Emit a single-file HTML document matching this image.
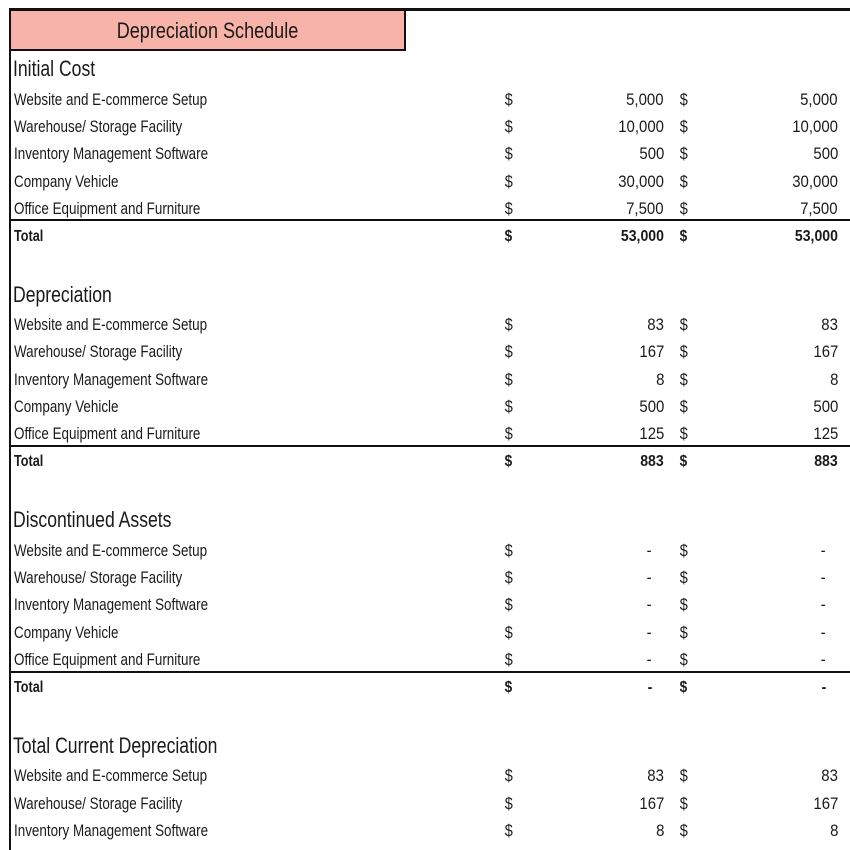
<!DOCTYPE html>
<html><head><meta charset="utf-8"><style>
html,body{margin:0;padding:0;background:#fff;}
body{width:850px;height:850px;position:relative;overflow:hidden;font-family:"Liberation Sans",sans-serif;color:#1a1a1a;}
.t{position:absolute;height:20px;line-height:20px;font-size:17px;white-space:nowrap;}
.l{left:14px;transform:scaleX(0.79);transform-origin:left center;}
.d1{left:504px;transform:scaleX(0.85);}
.d2{left:679px;transform:scaleX(0.85);}
.v1{right:186px;text-align:right;transform:scaleX(0.88);transform-origin:right center;}
.v2{right:12px;text-align:right;transform:scaleX(0.88);transform-origin:right center;}
.h{font-size:22px;left:13px;transform:scaleX(0.8);transform-origin:left center;}
.b{font-weight:bold;font-size:16px;}
.line{position:absolute;left:10px;right:0;height:2px;background:#111;}
</style></head><body>
<div style="position:absolute;left:9px;top:8px;width:841px;height:3px;background:#111"></div>
<div style="position:absolute;left:9px;top:8px;width:393px;height:38px;background:#F8B3A8;border:2px solid #111;border-top:3px solid #111"></div>
<div class="t" style="left:9px;width:397px;top:21px;text-align:center;font-size:22px;transform:scaleX(0.82);">Depreciation Schedule</div>
<div style="position:absolute;left:9px;top:48px;width:2px;height:802px;background:#111"></div>

<div class="t h" style="top:59px">Initial Cost</div>
<div class="t l" style="top:90px">Website and E-commerce Setup</div><div class="t d1" style="top:90px">$</div><div class="t v1" style="top:90px">5,000</div><div class="t d2" style="top:90px">$</div><div class="t v2" style="top:90px">5,000</div>
<div class="t l" style="top:117px">Warehouse/ Storage Facility</div><div class="t d1" style="top:117px">$</div><div class="t v1" style="top:117px">10,000</div><div class="t d2" style="top:117px">$</div><div class="t v2" style="top:117px">10,000</div>
<div class="t l" style="top:144px">Inventory Management Software</div><div class="t d1" style="top:144px">$</div><div class="t v1" style="top:144px">500</div><div class="t d2" style="top:144px">$</div><div class="t v2" style="top:144px">500</div>
<div class="t l" style="top:172px">Company Vehicle</div><div class="t d1" style="top:172px">$</div><div class="t v1" style="top:172px">30,000</div><div class="t d2" style="top:172px">$</div><div class="t v2" style="top:172px">30,000</div>
<div class="t l" style="top:199px">Office Equipment and Furniture</div><div class="t d1" style="top:199px">$</div><div class="t v1" style="top:199px">7,500</div><div class="t d2" style="top:199px">$</div><div class="t v2" style="top:199px">7,500</div>
<div class="line" style="top:219px"></div>
<div class="t l b" style="top:227px">Total</div><div class="t d1 b" style="top:227px">$</div><div class="t v1 b" style="top:227px">53,000</div><div class="t d2 b" style="top:227px">$</div><div class="t v2 b" style="top:227px">53,000</div>

<div class="t h" style="top:285px">Depreciation</div>
<div class="t l" style="top:315px">Website and E-commerce Setup</div><div class="t d1" style="top:315px">$</div><div class="t v1" style="top:315px">83</div><div class="t d2" style="top:315px">$</div><div class="t v2" style="top:315px">83</div>
<div class="t l" style="top:342px">Warehouse/ Storage Facility</div><div class="t d1" style="top:342px">$</div><div class="t v1" style="top:342px">167</div><div class="t d2" style="top:342px">$</div><div class="t v2" style="top:342px">167</div>
<div class="t l" style="top:370px">Inventory Management Software</div><div class="t d1" style="top:370px">$</div><div class="t v1" style="top:370px">8</div><div class="t d2" style="top:370px">$</div><div class="t v2" style="top:370px">8</div>
<div class="t l" style="top:397px">Company Vehicle</div><div class="t d1" style="top:397px">$</div><div class="t v1" style="top:397px">500</div><div class="t d2" style="top:397px">$</div><div class="t v2" style="top:397px">500</div>
<div class="t l" style="top:424px">Office Equipment and Furniture</div><div class="t d1" style="top:424px">$</div><div class="t v1" style="top:424px">125</div><div class="t d2" style="top:424px">$</div><div class="t v2" style="top:424px">125</div>
<div class="line" style="top:445px"></div>
<div class="t l b" style="top:452px">Total</div><div class="t d1 b" style="top:452px">$</div><div class="t v1 b" style="top:452px">883</div><div class="t d2 b" style="top:452px">$</div><div class="t v2 b" style="top:452px">883</div>

<div class="t h" style="top:510px">Discontinued Assets</div>
<div class="t l" style="top:541px">Website and E-commerce Setup</div><div class="t d1" style="top:541px">$</div><div class="t v1" style="top:541px;right:198px">-</div><div class="t d2" style="top:541px">$</div><div class="t v2" style="top:541px;right:24px">-</div>
<div class="t l" style="top:568px">Warehouse/ Storage Facility</div><div class="t d1" style="top:568px">$</div><div class="t v1" style="top:568px;right:198px">-</div><div class="t d2" style="top:568px">$</div><div class="t v2" style="top:568px;right:24px">-</div>
<div class="t l" style="top:595px">Inventory Management Software</div><div class="t d1" style="top:595px">$</div><div class="t v1" style="top:595px;right:198px">-</div><div class="t d2" style="top:595px">$</div><div class="t v2" style="top:595px;right:24px">-</div>
<div class="t l" style="top:623px">Company Vehicle</div><div class="t d1" style="top:623px">$</div><div class="t v1" style="top:623px;right:198px">-</div><div class="t d2" style="top:623px">$</div><div class="t v2" style="top:623px;right:24px">-</div>
<div class="t l" style="top:650px">Office Equipment and Furniture</div><div class="t d1" style="top:650px">$</div><div class="t v1" style="top:650px;right:198px">-</div><div class="t d2" style="top:650px">$</div><div class="t v2" style="top:650px;right:24px">-</div>
<div class="line" style="top:671px"></div>
<div class="t l b" style="top:678px">Total</div><div class="t d1 b" style="top:678px">$</div><div class="t v1 b" style="top:678px;right:198px">-</div><div class="t d2 b" style="top:678px">$</div><div class="t v2 b" style="top:678px;right:24px">-</div>

<div class="t h" style="top:736px">Total Current Depreciation</div>
<div class="t l" style="top:766px">Website and E-commerce Setup</div><div class="t d1" style="top:766px">$</div><div class="t v1" style="top:766px">83</div><div class="t d2" style="top:766px">$</div><div class="t v2" style="top:766px">83</div>
<div class="t l" style="top:794px">Warehouse/ Storage Facility</div><div class="t d1" style="top:794px">$</div><div class="t v1" style="top:794px">167</div><div class="t d2" style="top:794px">$</div><div class="t v2" style="top:794px">167</div>
<div class="t l" style="top:821px">Inventory Management Software</div><div class="t d1" style="top:821px">$</div><div class="t v1" style="top:821px">8</div><div class="t d2" style="top:821px">$</div><div class="t v2" style="top:821px">8</div>
</body></html>
